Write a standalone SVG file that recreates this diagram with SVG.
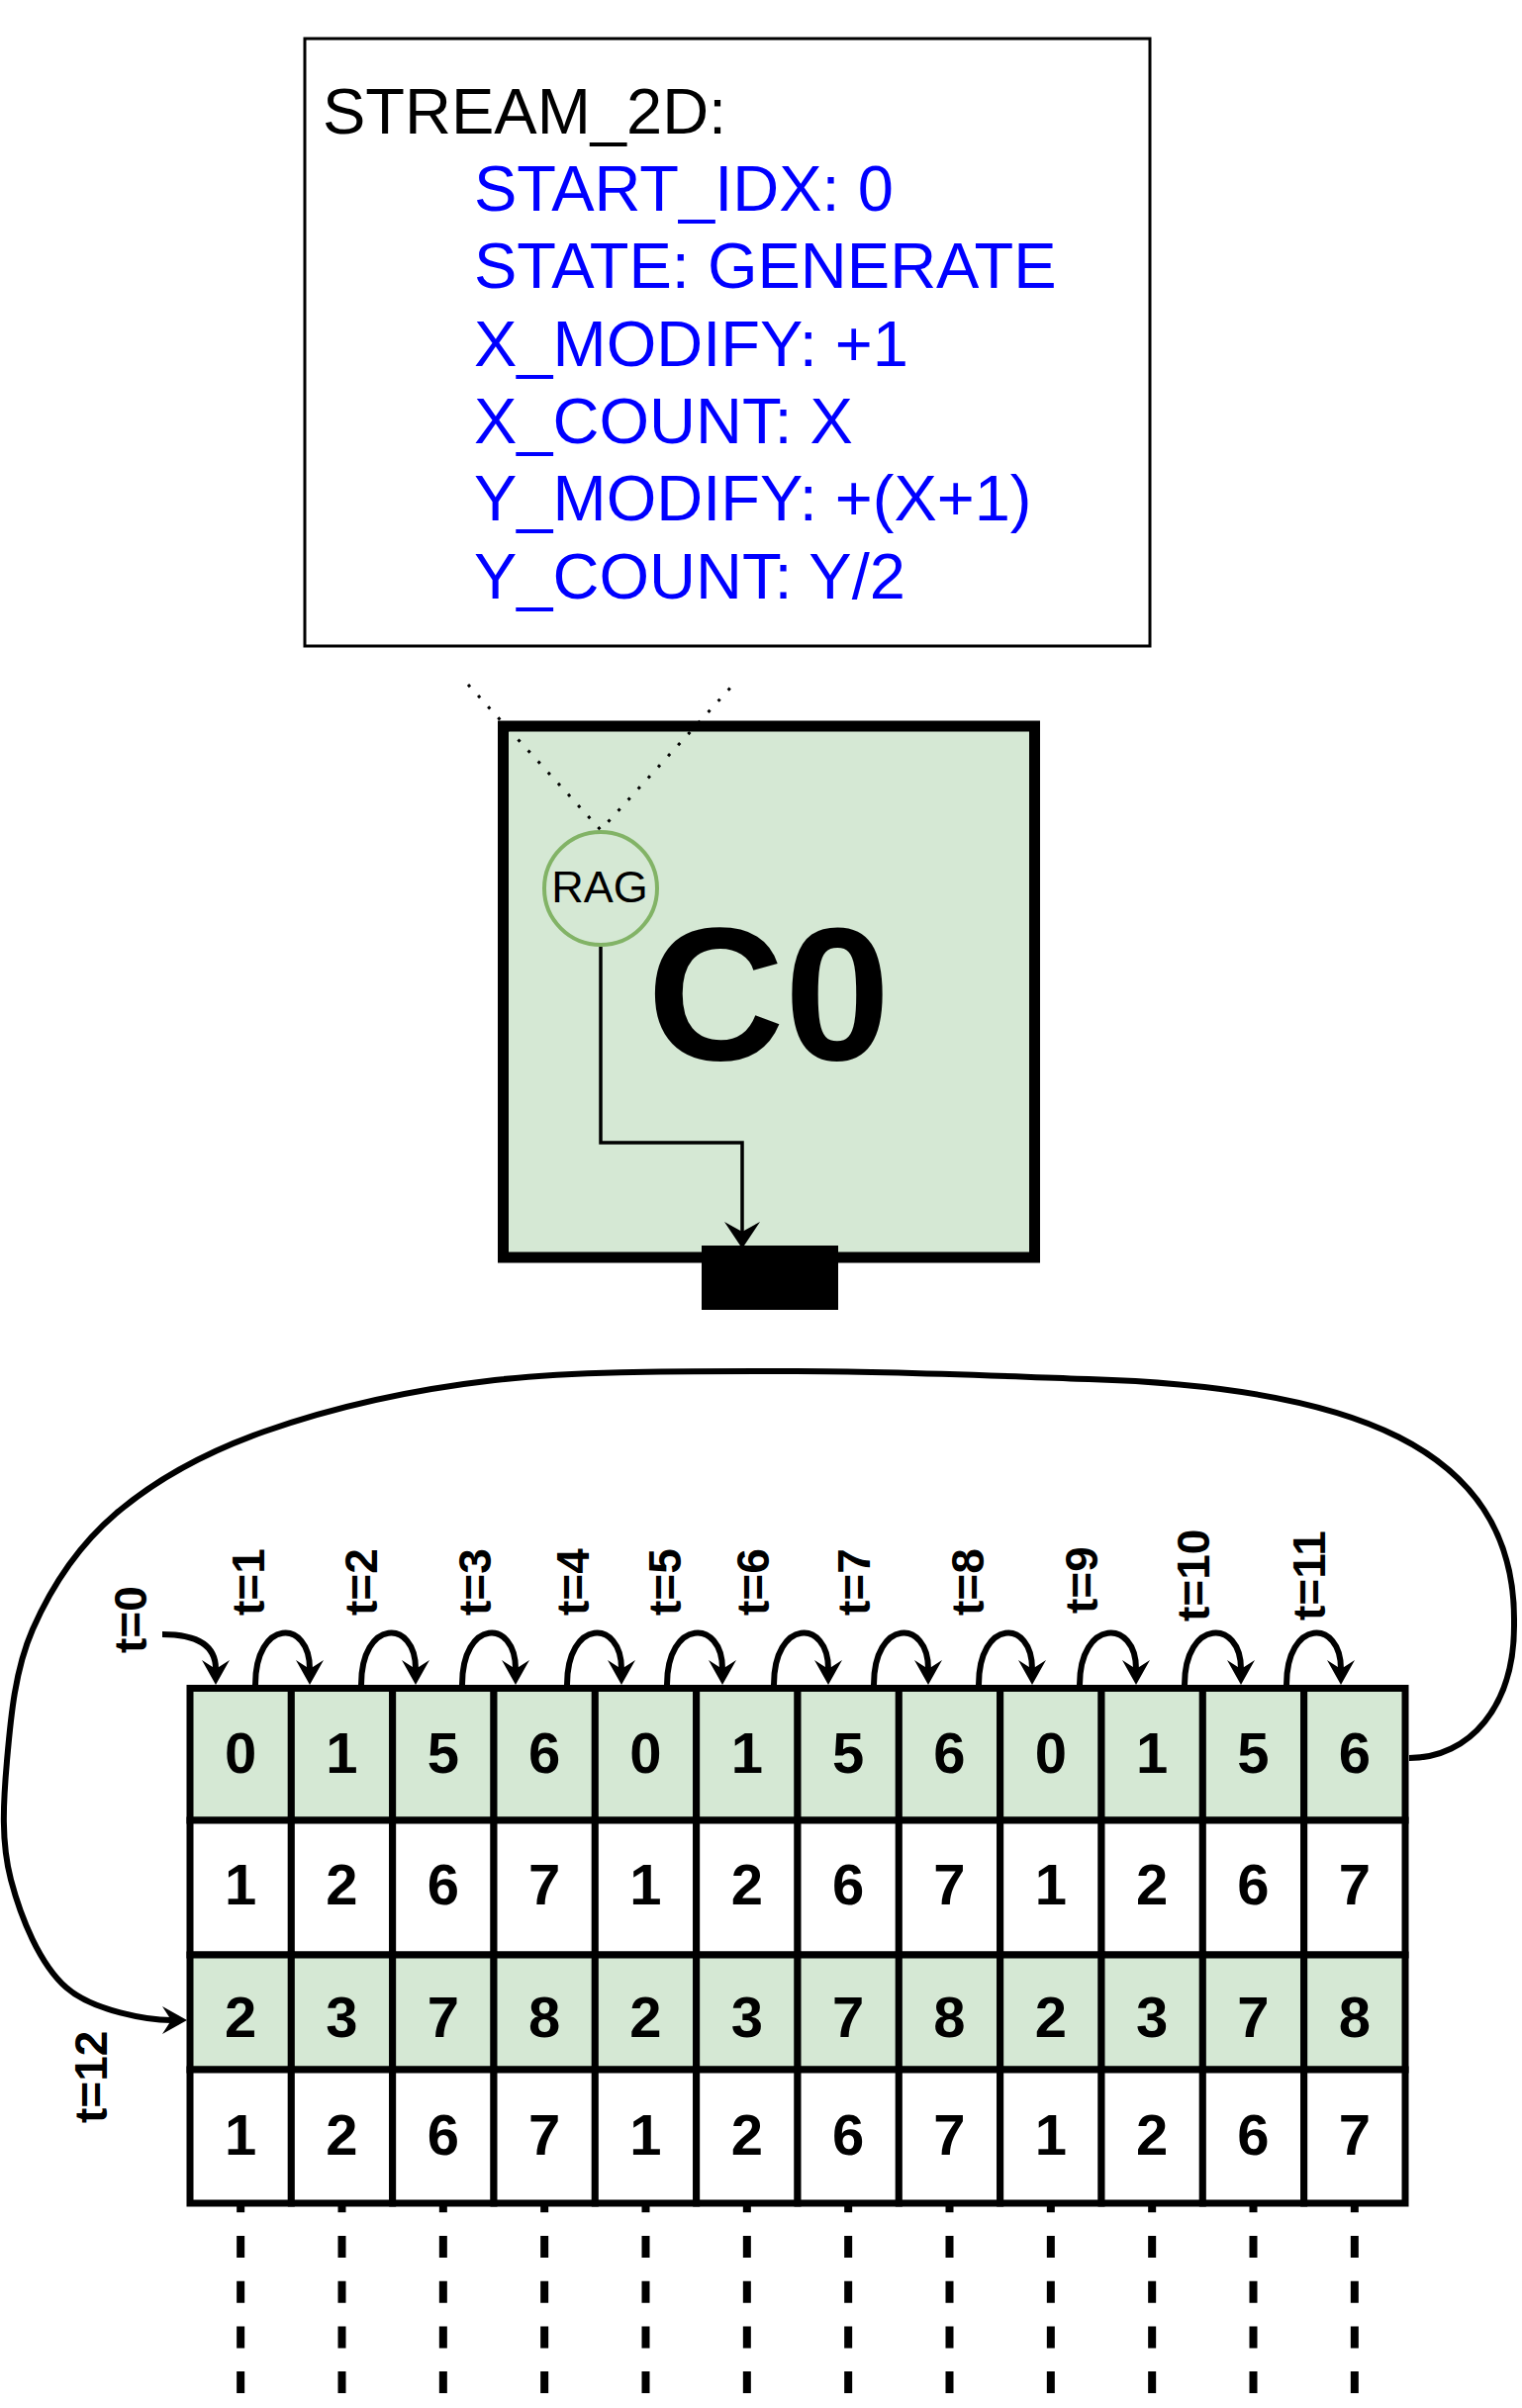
<svg xmlns="http://www.w3.org/2000/svg" width="1538" height="2434" viewBox="0 0 1538 2434">
<style>
.info{font-family:"Liberation Sans",Arial,sans-serif;font-size:65px}
.blue{fill:#0000FF}
.blk{fill:#000}
.cellG{fill:#d5e8d4;stroke:#000;stroke-width:7}
.cellW{fill:#ffffff;stroke:#000;stroke-width:7}
.num{font-family:"Liberation Sans",Arial,sans-serif;font-weight:bold;font-size:58px;text-anchor:middle;fill:#000}
.tl{font-family:"Liberation Sans",Arial,sans-serif;font-weight:bold;font-size:46px;fill:#000}
.arc{fill:none;stroke:#000;stroke-width:6}
.dash{stroke:#000;stroke-width:8;stroke-dasharray:22 23.7;stroke-dashoffset:15.7}
</style>
<defs>
<marker id="ah" markerUnits="userSpaceOnUse" viewBox="-9 -14 25 28" refX="0" refY="0" markerWidth="25" markerHeight="28" orient="auto">
<path d="M16,0 L-9,-14 L0,0 L-9,14 Z" fill="#000"/>
</marker>
<marker id="ahThin" markerUnits="userSpaceOnUse" viewBox="-10 -18 27 36" refX="0" refY="0" markerWidth="27" markerHeight="36" orient="auto">
<path d="M17,0 L-10,-18 L0,0 L-10,18 Z" fill="#000"/>
</marker>
</defs>
<rect width="1538" height="2434" fill="#ffffff"/>

<g id="info-box">
<rect x="308" y="39" width="854" height="614" fill="#ffffff" stroke="#000" stroke-width="3"/>
<text class="info blk" x="326" y="135">STREAM_2D:</text>
<text class="info blue" x="479" y="213">START_IDX: 0</text>
<text class="info blue" x="479" y="291">STATE: GENERATE</text>
<text class="info blue" x="479" y="370">X_MODIFY: +1</text>
<text class="info blue" x="479" y="448">X_COUNT: X</text>
<text class="info blue" x="479" y="526">Y_MODIFY: +(X+1)</text>
<text class="info blue" x="479" y="605">Y_COUNT: Y/2</text>
</g>

<g id="c0">
<rect x="508.5" y="734" width="537" height="537" fill="#d5e8d4" stroke="#000" stroke-width="11"/>
<text x="654" y="1071" font-family="Liberation Sans, Arial, sans-serif" font-weight="bold" font-size="192" fill="#000">C0</text>
</g>

<g id="port">
<rect x="709" y="1259" width="138" height="65" fill="#000"/>
</g>

<g id="rag">
<circle cx="607" cy="898" r="57" fill="#d5e8d4" stroke="#82b366" stroke-width="4"/>
<text x="606" y="912" font-family="Liberation Sans, Arial, sans-serif" font-size="45" text-anchor="middle" fill="#000">RAG</text>
</g>

<g id="grid">
<g id="r0">
<g id="cell-0-0"><rect class="cellG" x="192" y="1706.5" width="102.33" height="133.5"/><text class="num" x="243.17" y="1792">0</text></g>
<g id="cell-0-1"><rect class="cellG" x="294.33" y="1706.5" width="102.33" height="133.5"/><text class="num" x="345.5" y="1792">1</text></g>
<g id="cell-0-2"><rect class="cellG" x="396.67" y="1706.5" width="102.33" height="133.5"/><text class="num" x="447.83" y="1792">5</text></g>
<g id="cell-0-3"><rect class="cellG" x="499" y="1706.5" width="102.33" height="133.5"/><text class="num" x="550.17" y="1792">6</text></g>
<g id="cell-0-4"><rect class="cellG" x="601.33" y="1706.5" width="102.33" height="133.5"/><text class="num" x="652.5" y="1792">0</text></g>
<g id="cell-0-5"><rect class="cellG" x="703.67" y="1706.5" width="102.33" height="133.5"/><text class="num" x="754.83" y="1792">1</text></g>
<g id="cell-0-6"><rect class="cellG" x="806" y="1706.5" width="102.33" height="133.5"/><text class="num" x="857.17" y="1792">5</text></g>
<g id="cell-0-7"><rect class="cellG" x="908.33" y="1706.5" width="102.33" height="133.5"/><text class="num" x="959.5" y="1792">6</text></g>
<g id="cell-0-8"><rect class="cellG" x="1010.67" y="1706.5" width="102.33" height="133.5"/><text class="num" x="1061.83" y="1792">0</text></g>
<g id="cell-0-9"><rect class="cellG" x="1113" y="1706.5" width="102.33" height="133.5"/><text class="num" x="1164.17" y="1792">1</text></g>
<g id="cell-0-10"><rect class="cellG" x="1215.33" y="1706.5" width="102.33" height="133.5"/><text class="num" x="1266.5" y="1792">5</text></g>
<g id="cell-0-11"><rect class="cellG" x="1317.67" y="1706.5" width="102.33" height="133.5"/><text class="num" x="1368.83" y="1792">6</text></g>
</g>
<g id="r1">
<g id="cell-1-0"><rect class="cellW" x="192" y="1840" width="102.33" height="136"/><text class="num" x="243.17" y="1925">1</text></g>
<g id="cell-1-1"><rect class="cellW" x="294.33" y="1840" width="102.33" height="136"/><text class="num" x="345.5" y="1925">2</text></g>
<g id="cell-1-2"><rect class="cellW" x="396.67" y="1840" width="102.33" height="136"/><text class="num" x="447.83" y="1925">6</text></g>
<g id="cell-1-3"><rect class="cellW" x="499" y="1840" width="102.33" height="136"/><text class="num" x="550.17" y="1925">7</text></g>
<g id="cell-1-4"><rect class="cellW" x="601.33" y="1840" width="102.33" height="136"/><text class="num" x="652.5" y="1925">1</text></g>
<g id="cell-1-5"><rect class="cellW" x="703.67" y="1840" width="102.33" height="136"/><text class="num" x="754.83" y="1925">2</text></g>
<g id="cell-1-6"><rect class="cellW" x="806" y="1840" width="102.33" height="136"/><text class="num" x="857.17" y="1925">6</text></g>
<g id="cell-1-7"><rect class="cellW" x="908.33" y="1840" width="102.33" height="136"/><text class="num" x="959.5" y="1925">7</text></g>
<g id="cell-1-8"><rect class="cellW" x="1010.67" y="1840" width="102.33" height="136"/><text class="num" x="1061.83" y="1925">1</text></g>
<g id="cell-1-9"><rect class="cellW" x="1113" y="1840" width="102.33" height="136"/><text class="num" x="1164.17" y="1925">2</text></g>
<g id="cell-1-10"><rect class="cellW" x="1215.33" y="1840" width="102.33" height="136"/><text class="num" x="1266.5" y="1925">6</text></g>
<g id="cell-1-11"><rect class="cellW" x="1317.67" y="1840" width="102.33" height="136"/><text class="num" x="1368.83" y="1925">7</text></g>
</g>
<g id="r2">
<g id="cell-2-0"><rect class="cellG" x="192" y="1976" width="102.33" height="116"/><text class="num" x="243.17" y="2059">2</text></g>
<g id="cell-2-1"><rect class="cellG" x="294.33" y="1976" width="102.33" height="116"/><text class="num" x="345.5" y="2059">3</text></g>
<g id="cell-2-2"><rect class="cellG" x="396.67" y="1976" width="102.33" height="116"/><text class="num" x="447.83" y="2059">7</text></g>
<g id="cell-2-3"><rect class="cellG" x="499" y="1976" width="102.33" height="116"/><text class="num" x="550.17" y="2059">8</text></g>
<g id="cell-2-4"><rect class="cellG" x="601.33" y="1976" width="102.33" height="116"/><text class="num" x="652.5" y="2059">2</text></g>
<g id="cell-2-5"><rect class="cellG" x="703.67" y="1976" width="102.33" height="116"/><text class="num" x="754.83" y="2059">3</text></g>
<g id="cell-2-6"><rect class="cellG" x="806" y="1976" width="102.33" height="116"/><text class="num" x="857.17" y="2059">7</text></g>
<g id="cell-2-7"><rect class="cellG" x="908.33" y="1976" width="102.33" height="116"/><text class="num" x="959.5" y="2059">8</text></g>
<g id="cell-2-8"><rect class="cellG" x="1010.67" y="1976" width="102.33" height="116"/><text class="num" x="1061.83" y="2059">2</text></g>
<g id="cell-2-9"><rect class="cellG" x="1113" y="1976" width="102.33" height="116"/><text class="num" x="1164.17" y="2059">3</text></g>
<g id="cell-2-10"><rect class="cellG" x="1215.33" y="1976" width="102.33" height="116"/><text class="num" x="1266.5" y="2059">7</text></g>
<g id="cell-2-11"><rect class="cellG" x="1317.67" y="1976" width="102.33" height="116"/><text class="num" x="1368.83" y="2059">8</text></g>
</g>
<g id="r3">
<g id="cell-3-0"><rect class="cellW" x="192" y="2092" width="102.33" height="135"/><text class="num" x="243.17" y="2178">1</text></g>
<g id="cell-3-1"><rect class="cellW" x="294.33" y="2092" width="102.33" height="135"/><text class="num" x="345.5" y="2178">2</text></g>
<g id="cell-3-2"><rect class="cellW" x="396.67" y="2092" width="102.33" height="135"/><text class="num" x="447.83" y="2178">6</text></g>
<g id="cell-3-3"><rect class="cellW" x="499" y="2092" width="102.33" height="135"/><text class="num" x="550.17" y="2178">7</text></g>
<g id="cell-3-4"><rect class="cellW" x="601.33" y="2092" width="102.33" height="135"/><text class="num" x="652.5" y="2178">1</text></g>
<g id="cell-3-5"><rect class="cellW" x="703.67" y="2092" width="102.33" height="135"/><text class="num" x="754.83" y="2178">2</text></g>
<g id="cell-3-6"><rect class="cellW" x="806" y="2092" width="102.33" height="135"/><text class="num" x="857.17" y="2178">6</text></g>
<g id="cell-3-7"><rect class="cellW" x="908.33" y="2092" width="102.33" height="135"/><text class="num" x="959.5" y="2178">7</text></g>
<g id="cell-3-8"><rect class="cellW" x="1010.67" y="2092" width="102.33" height="135"/><text class="num" x="1061.83" y="2178">1</text></g>
<g id="cell-3-9"><rect class="cellW" x="1113" y="2092" width="102.33" height="135"/><text class="num" x="1164.17" y="2178">2</text></g>
<g id="cell-3-10"><rect class="cellW" x="1215.33" y="2092" width="102.33" height="135"/><text class="num" x="1266.5" y="2178">6</text></g>
<g id="cell-3-11"><rect class="cellW" x="1317.67" y="2092" width="102.33" height="135"/><text class="num" x="1368.83" y="2178">7</text></g>
</g>
</g>

<g id="labels">
<text class="tl" transform="translate(148,1671) rotate(-90)">t=0</text>
<text class="tl" transform="translate(267,1633) rotate(-90)">t=1</text>
<text class="tl" transform="translate(380.5,1633) rotate(-90)">t=2</text>
<text class="tl" transform="translate(496,1633) rotate(-90)">t=3</text>
<text class="tl" transform="translate(595,1633) rotate(-90)">t=4</text>
<text class="tl" transform="translate(688,1633) rotate(-90)">t=5</text>
<text class="tl" transform="translate(776.5,1633) rotate(-90)">t=6</text>
<text class="tl" transform="translate(879,1633) rotate(-90)">t=7</text>
<text class="tl" transform="translate(994,1633) rotate(-90)">t=8</text>
<text class="tl" transform="translate(1109,1631) rotate(-90)">t=9</text>
<text class="tl" transform="translate(1222,1639) rotate(-90)">t=10</text>
<text class="tl" transform="translate(1339,1638) rotate(-90)">t=11</text>
<text class="tl" transform="translate(108,2146) rotate(-90)">t=12</text>
</g>

<g id="connectors">
<path d="M473,692 L607,839 L741,692" fill="none" stroke="#000" stroke-width="3" stroke-dasharray="3 12"/>
<path d="M607,957 L607,1155 L750,1155 L750,1245" fill="none" stroke="#000" stroke-width="3.5" marker-end="url(#ahThin)"/>
<path class="arc" d="M164,1652 C200,1652 218,1664 218,1687" marker-end="url(#ah)"/>
<path class="arc" d="M258,1703 C258,1636 313,1636 313,1687" marker-end="url(#ah)"/>
<path class="arc" d="M365,1703 C365,1636 420,1636 420,1687" marker-end="url(#ah)"/>
<path class="arc" d="M467,1703 C467,1636 521,1636 521,1687" marker-end="url(#ah)"/>
<path class="arc" d="M573,1703 C573,1636 628,1636 628,1687" marker-end="url(#ah)"/>
<path class="arc" d="M674,1703 C674,1636 730,1636 730,1687" marker-end="url(#ah)"/>
<path class="arc" d="M782,1703 C782,1636 837,1636 837,1687" marker-end="url(#ah)"/>
<path class="arc" d="M883,1703 C883,1636 938,1636 938,1687" marker-end="url(#ah)"/>
<path class="arc" d="M989,1703 C989,1636 1043,1636 1043,1687" marker-end="url(#ah)"/>
<path class="arc" d="M1091,1703 C1091,1636 1148,1636 1148,1687" marker-end="url(#ah)"/>
<path class="arc" d="M1197,1703 C1197,1636 1254,1636 1254,1687" marker-end="url(#ah)"/>
<path class="arc" d="M1300,1703 C1300,1636 1355,1636 1355,1687" marker-end="url(#ah)"/>
<path class="arc" d="M1424,1777 C1485,1777 1531,1725 1530,1640 C1532,1460 1360,1402 1100,1394 C1010,1391 900,1385.8 800,1386 C700,1386.2 588.8,1384.8 500,1395 C411.2,1405.2 330.8,1424.5 267,1447 C203.2,1469.5 156,1496.7 117,1530 C78,1563.3 51.3,1605.3 33,1647 C14.7,1688.7 10.7,1737.8 7,1780 C3.3,1822.2 1,1861.8 11,1900 C21,1938.2 40,1985.3 67,2009 C94,2032.7 150,2042 173,2042" marker-end="url(#ah)"/>
<line class="dash" x1="243.17" y1="2230" x2="243.17" y2="2434"/>
<line class="dash" x1="345.5" y1="2230" x2="345.5" y2="2434"/>
<line class="dash" x1="447.83" y1="2230" x2="447.83" y2="2434"/>
<line class="dash" x1="550.17" y1="2230" x2="550.17" y2="2434"/>
<line class="dash" x1="652.5" y1="2230" x2="652.5" y2="2434"/>
<line class="dash" x1="754.83" y1="2230" x2="754.83" y2="2434"/>
<line class="dash" x1="857.17" y1="2230" x2="857.17" y2="2434"/>
<line class="dash" x1="959.5" y1="2230" x2="959.5" y2="2434"/>
<line class="dash" x1="1061.83" y1="2230" x2="1061.83" y2="2434"/>
<line class="dash" x1="1164.17" y1="2230" x2="1164.17" y2="2434"/>
<line class="dash" x1="1266.5" y1="2230" x2="1266.5" y2="2434"/>
<line class="dash" x1="1368.83" y1="2230" x2="1368.83" y2="2434"/>
</g>
</svg>
